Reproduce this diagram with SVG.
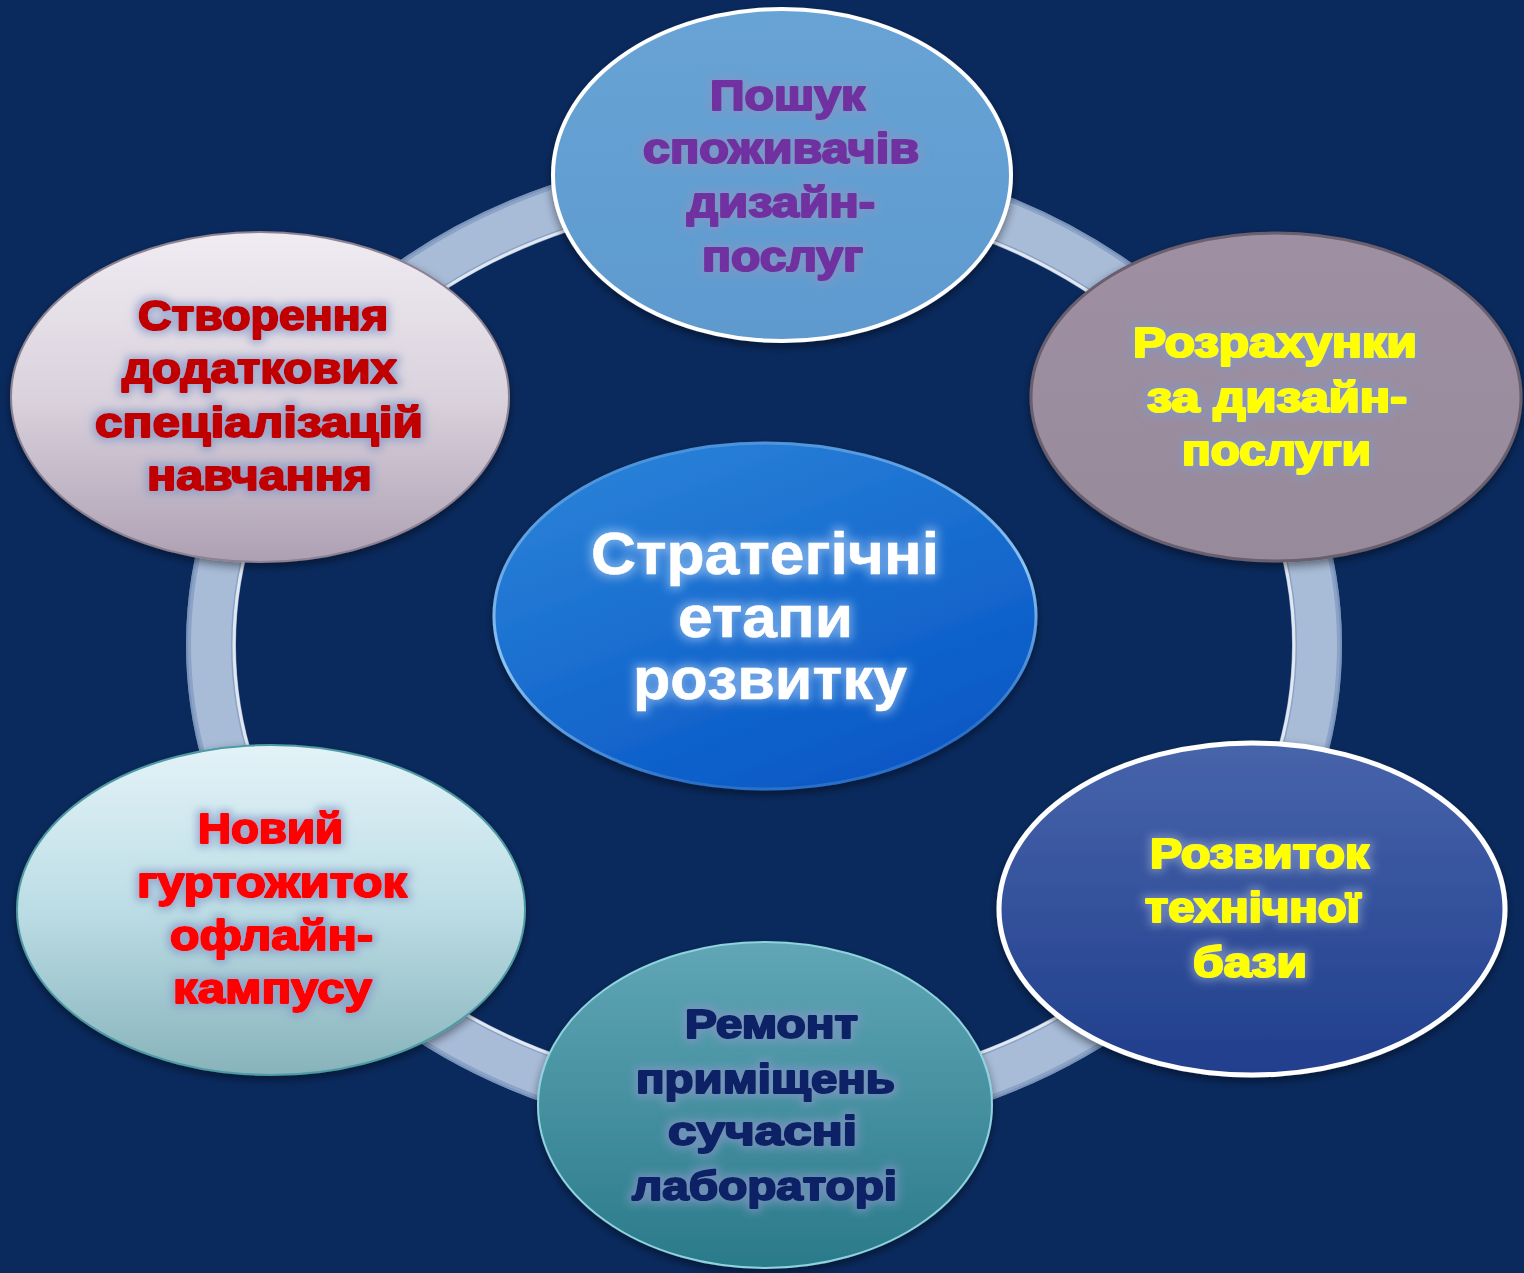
<svg xmlns="http://www.w3.org/2000/svg" width="1524" height="1273" viewBox="0 0 1524 1273">
<defs>
<style>
.t{font-family:"Liberation Sans",Arial,sans-serif;font-weight:700;text-anchor:middle;stroke-linejoin:round;}
.n{font-size:42px;stroke-width:2.2px;}
.purple{fill:#7030a0;stroke:#7030a0;}
.dred{fill:#c00000;stroke:#c00000;}
.yel{fill:#ffff00;stroke:#ffff00;}
.red{fill:#ff0000;stroke:#ff0000;}
.navy{fill:#0d2466;stroke:#0d2466;}
.white{fill:#ffffff;font-size:60px;stroke:#ffffff;stroke-width:0.6px;}
</style>
<linearGradient id="gTop" x1="0" y1="0" x2="0" y2="1"><stop offset="0" stop-color="#68a3d5"/><stop offset="1" stop-color="#5e9acf"/></linearGradient>
<linearGradient id="gLT" x1="0" y1="0" x2="0" y2="1"><stop offset="0" stop-color="#f0ecf2"/><stop offset="0.5" stop-color="#dad2dd"/><stop offset="1" stop-color="#ada0b3"/></linearGradient>
<linearGradient id="gRT" x1="0" y1="0" x2="0" y2="1"><stop offset="0" stop-color="#9e90a2"/><stop offset="1" stop-color="#978a9b"/></linearGradient>
<linearGradient id="gC" x1="0.2" y1="0" x2="0.8" y2="1"><stop offset="0" stop-color="#2b82d8"/><stop offset="1" stop-color="#0555c5"/></linearGradient>
<linearGradient id="gCs" x1="0" y1="0" x2="0.3" y2="1"><stop offset="0" stop-color="#3a86d6"/><stop offset="0.6" stop-color="#8ec4f2"/><stop offset="1" stop-color="#2a70c8"/></linearGradient>
<linearGradient id="gLB" x1="0" y1="0" x2="0" y2="1"><stop offset="0" stop-color="#e3f3f8"/><stop offset="0.5" stop-color="#bcdde5"/><stop offset="1" stop-color="#87b3bb"/></linearGradient>
<linearGradient id="gRB" x1="0" y1="0" x2="0" y2="1"><stop offset="0" stop-color="#4764ab"/><stop offset="1" stop-color="#203e8c"/></linearGradient>
<linearGradient id="gB" x1="0" y1="0" x2="0" y2="1"><stop offset="0" stop-color="#60a6b6"/><stop offset="1" stop-color="#2a7a8a"/></linearGradient>
<filter id="shadow" x="-10%" y="-10%" width="120%" height="130%">
<feDropShadow dx="0" dy="4" stdDeviation="5" flood-color="#000010" flood-opacity="0.45"/>
</filter>
<filter id="glow" x="-20%" y="-40%" width="140%" height="180%">
<feMorphology in="SourceAlpha" operator="dilate" radius="3" result="d"/>
<feGaussianBlur in="d" stdDeviation="4" result="b"/>
<feFlood flood-color="#8296c4" flood-opacity="0.7"/>
<feComposite in2="b" operator="in" result="g"/>
<feMerge><feMergeNode in="g"/><feMergeNode in="SourceGraphic"/></feMerge>
</filter>
<filter id="glowW" x="-20%" y="-40%" width="140%" height="180%">
<feMorphology in="SourceAlpha" operator="dilate" radius="3" result="d"/>
<feGaussianBlur in="d" stdDeviation="5" result="b"/>
<feFlood flood-color="#cfe4ff" flood-opacity="0.45"/>
<feComposite in2="b" operator="in" result="g"/>
<feMerge><feMergeNode in="g"/><feMergeNode in="SourceGraphic"/></feMerge>
</filter>
</defs>
<rect x="0" y="0" width="1524" height="1273" fill="#0a2a5e"/>

<g id="connectors">
<ellipse cx="764" cy="645" rx="553" ry="470" fill="none" stroke="#8ba3c6" stroke-width="50"/>
<ellipse cx="764" cy="645" rx="553" ry="470" fill="none" stroke="#a8bcd8" stroke-width="40"/>
<ellipse cx="764" cy="645" rx="530" ry="447" fill="none" stroke="#ffffff" stroke-opacity="0.75" stroke-width="3"/>
<ellipse cx="764" cy="645" rx="577" ry="494" fill="none" stroke="#6f88b0" stroke-opacity="0.6" stroke-width="2"/>
</g>

<g id="node-center">
<ellipse cx="765" cy="616" rx="271" ry="173" fill="url(#gC)" stroke="url(#gCs)" stroke-width="3" filter="url(#shadow)"/>
<g class="t white" filter="url(#glowW)">
<text x="765" y="574" textLength="348" lengthAdjust="spacingAndGlyphs">Стратегічні</text>
<text x="765.5" y="637" textLength="175" lengthAdjust="spacingAndGlyphs">етапи</text>
<text x="770" y="699" textLength="274" lengthAdjust="spacingAndGlyphs">розвитку</text>
</g>
</g>

<g id="node-top">
<ellipse cx="782" cy="175" rx="229" ry="166" fill="url(#gTop)" stroke="#ffffff" stroke-width="4" filter="url(#shadow)"/>
<g class="t n purple" filter="url(#glow)">
<text x="787.5" y="110" textLength="155" lengthAdjust="spacingAndGlyphs">Пошук</text>
<text x="781" y="163" textLength="276" lengthAdjust="spacingAndGlyphs">споживачів</text>
<text x="781" y="217" textLength="188" lengthAdjust="spacingAndGlyphs">дизайн-</text>
<text x="782.5" y="271" textLength="161" lengthAdjust="spacingAndGlyphs">послуг</text>
</g>
</g>

<g id="node-left-top">
<ellipse cx="260" cy="397" rx="249" ry="165" fill="url(#gLT)" stroke="#8c8292" stroke-width="2" filter="url(#shadow)"/>
<g class="t n dred" filter="url(#glow)">
<text x="263" y="330" textLength="250" lengthAdjust="spacingAndGlyphs">Створення</text>
<text x="259.5" y="383" textLength="275" lengthAdjust="spacingAndGlyphs">додаткових</text>
<text x="259" y="437" textLength="328" lengthAdjust="spacingAndGlyphs">спеціалізацій</text>
<text x="259.5" y="490" textLength="225" lengthAdjust="spacingAndGlyphs">навчання</text>
</g>
</g>

<g id="node-right-top">
<ellipse cx="1276" cy="397" rx="245" ry="164" fill="url(#gRT)" stroke="#6a5f6e" stroke-width="3" filter="url(#shadow)"/>
<g class="t n yel" filter="url(#glow)">
<text x="1275" y="357" textLength="284" lengthAdjust="spacingAndGlyphs">Розрахунки</text>
<text x="1277" y="412" textLength="260" lengthAdjust="spacingAndGlyphs">за дизайн-</text>
<text x="1276.5" y="465" textLength="189" lengthAdjust="spacingAndGlyphs">послуги</text>
</g>
</g>

<g id="node-left-bottom">
<ellipse cx="271" cy="910" rx="254" ry="165" fill="url(#gLB)" stroke="#4f9aa3" stroke-width="2" filter="url(#shadow)"/>
<g class="t n red" filter="url(#glow)">
<text x="270.5" y="843" textLength="145" lengthAdjust="spacingAndGlyphs">Новий</text>
<text x="272" y="897" textLength="270" lengthAdjust="spacingAndGlyphs">гуртожиток</text>
<text x="271.5" y="950" textLength="203" lengthAdjust="spacingAndGlyphs">офлайн-</text>
<text x="272.5" y="1003" textLength="199" lengthAdjust="spacingAndGlyphs">кампусу</text>
</g>
</g>

<g id="node-right-bottom">
<ellipse cx="1252" cy="909" rx="253" ry="166" fill="url(#gRB)" stroke="#ffffff" stroke-width="5" filter="url(#shadow)"/>
<g class="t n yel" filter="url(#glow)">
<text x="1259.5" y="868" textLength="219" lengthAdjust="spacingAndGlyphs">Розвиток</text>
<text x="1252.5" y="922" textLength="215" lengthAdjust="spacingAndGlyphs">технічної</text>
<text x="1250" y="977" textLength="114" lengthAdjust="spacingAndGlyphs">бази</text>
</g>
</g>

<g id="node-bottom">
<ellipse cx="765" cy="1105" rx="227" ry="163" fill="url(#gB)" stroke="#8fd3de" stroke-width="2" filter="url(#shadow)"/>
<g class="t n navy" filter="url(#glow)" style="font-size:40px">
<text x="771.5" y="1038" textLength="173" lengthAdjust="spacingAndGlyphs">Ремонт</text>
<text x="765.5" y="1093" textLength="259" lengthAdjust="spacingAndGlyphs">приміщень</text>
<text x="762.5" y="1145" textLength="189" lengthAdjust="spacingAndGlyphs">сучасні</text>
<text x="764.5" y="1200" textLength="265" lengthAdjust="spacingAndGlyphs">лабораторі</text>
</g>
</g>
</svg>
